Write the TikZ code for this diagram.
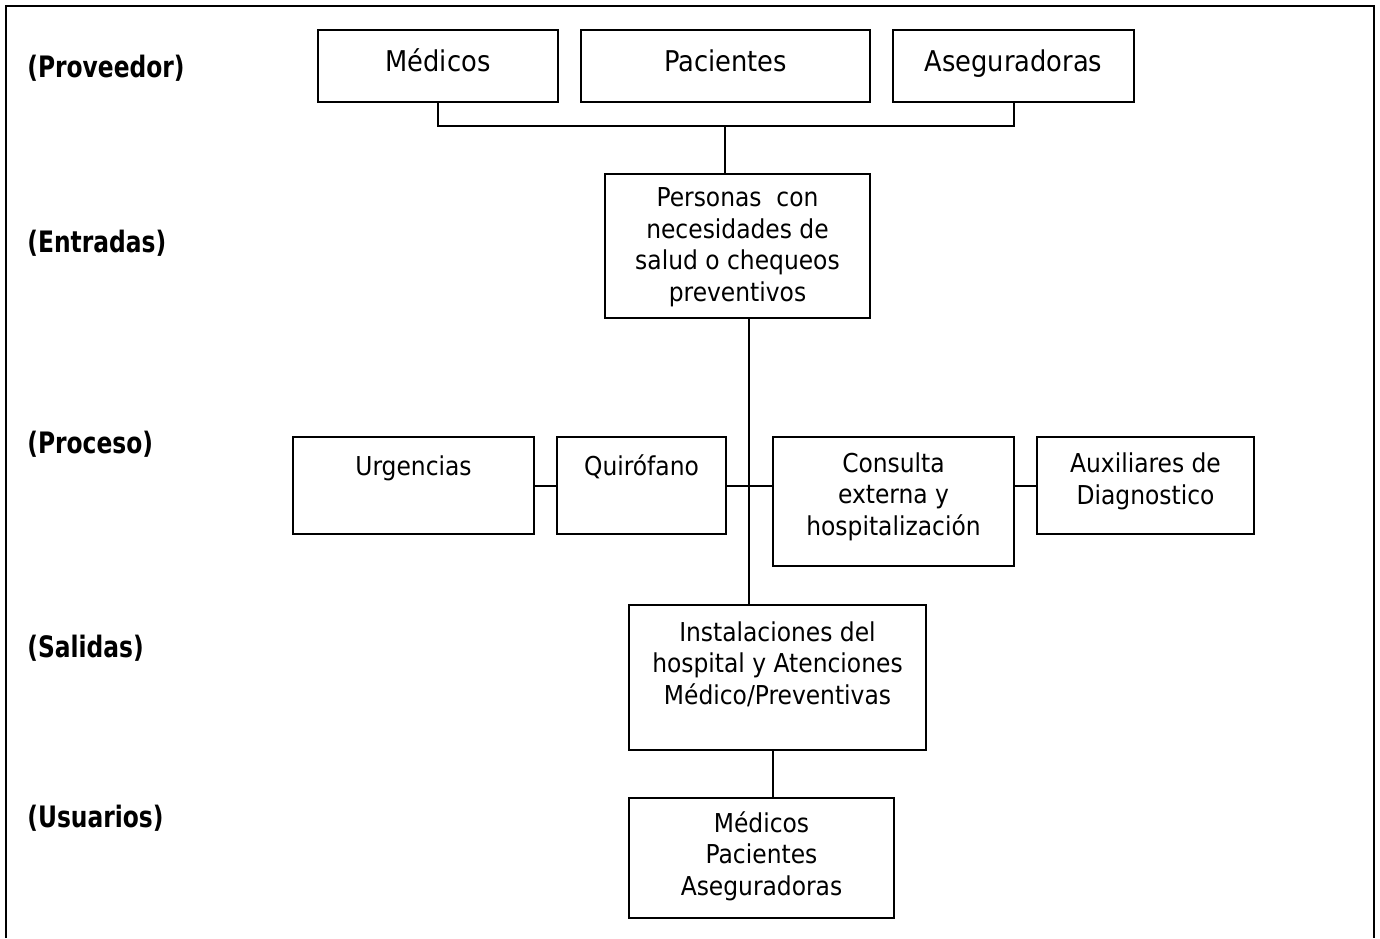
\documentclass[tikz,border=0pt]{standalone}
\usepackage{fontspec}
\usepackage{graphicx}
\setmainfont{DejaVu Sans Condensed}
\newcommand{\lblsq}[1]{\scalebox{0.88}[1]{#1}}
\begin{document}
\begin{tikzpicture}[x=0.5pt,y=-0.5pt,
  box/.style={draw, line width=1pt, inner sep=0pt, outer sep=0pt},
  txt/.style={inner sep=0pt, align=center, font=\fontsize{13pt}{15.75pt}\selectfont},
  toptxt/.style={inner sep=0pt, align=center, font=\fontsize{14.3pt}{15.75pt}\selectfont},
  lbl/.style={inner sep=0pt, anchor=base west, font=\fontsize{14.75pt}{15.75pt}\selectfont\bfseries},
  con/.style={line width=1pt}]
\useasboundingbox (0,0) rectangle (1380,938);
% frame
\draw[line width=1pt] (6,938) -- (6,6) -- (1374,6) -- (1374,938);
% boxes
\node[box, minimum width=120pt, minimum height=36pt] (med) at (438,66) {};
\node[box, minimum width=144.5pt, minimum height=36pt] (pac) at (725.5,66) {};
\node[box, minimum width=120.5pt, minimum height=36pt] (ase) at (1013.5,66) {};
\node[box, minimum width=132.5pt, minimum height=72pt] (per) at (737.5,246) {};
\node[box, minimum width=120.5pt, minimum height=48.5pt] (urg) at (413.5,485.5) {};
\node[box, minimum width=84.5pt, minimum height=48.5pt] (qui) at (641.5,485.5) {};
\node[box, minimum width=120.5pt, minimum height=64.5pt] (cons) at (893.5,501.5) {};
\node[box, minimum width=108.5pt, minimum height=48.5pt] (aux) at (1145.5,485.5) {};
\node[box, minimum width=148.5pt, minimum height=72.5pt] (ins) at (777.5,677.5) {};
\node[box, minimum width=132.5pt, minimum height=60pt] (usu) at (761.5,858) {};
% texts (multi-line nodes: base = last line)
\node[toptxt, anchor=base] at (438,71) {Médicos};
\node[toptxt, anchor=base] at (725.5,71) {Pacientes};
\node[toptxt, anchor=base] at (1013.5,71) {Aseguradoras};
\node[txt, anchor=base] at (737.5,301) {Personas\ \ con\\necesidades de\\salud o chequeos\\preventivos};
\node[txt, anchor=base] at (413.5,475) {Urgencias};
\node[txt, anchor=base] at (641.5,475) {Quirófano};
\node[txt, anchor=base] at (893.5,535) {Consulta\\externa y\\hospitalización};
\node[txt, anchor=base] at (1145.5,504) {Auxiliares de\\Diagnostico};
\node[txt, anchor=base] at (777.5,704) {Instalaciones del\\hospital y Atenciones\\Médico/Preventivas};
\node[txt, anchor=base] at (761.5,895) {Médicos\\Pacientes\\Aseguradoras};
% labels
\node[lbl] (l1) at (27,77) {\lblsq{(Proveedor)}};
\node[lbl] (l2) at (27,252) {\lblsq{(Entradas)}};
\node[lbl] (l3) at (27,453) {\lblsq{(Proceso)}};
\node[lbl] (l4) at (27,657) {\lblsq{(Salidas)}};
\node[lbl] (l5) at (27,827) {\lblsq{(Usuarios)}};
% connectors
\coordinate (bar) at (725,126);
\coordinate (spine) at (749,0);
\coordinate (low) at (773,0);
\draw[con] (med.south) |- (bar) -| (ase.south);
\draw[con] (bar) -- (bar |- per.north);
\draw[con] (per.south -| spine) -- (ins.north -| spine);
\draw[con] (urg.east) -- (qui.west);
\draw[con] (qui.east) -- (qui.east -| cons.west);
\draw[con] (aux.west -| cons.east) -- (aux.west);
\draw[con] (ins.south -| low) -- (usu.north -| low);
\end{tikzpicture}
\end{document}
